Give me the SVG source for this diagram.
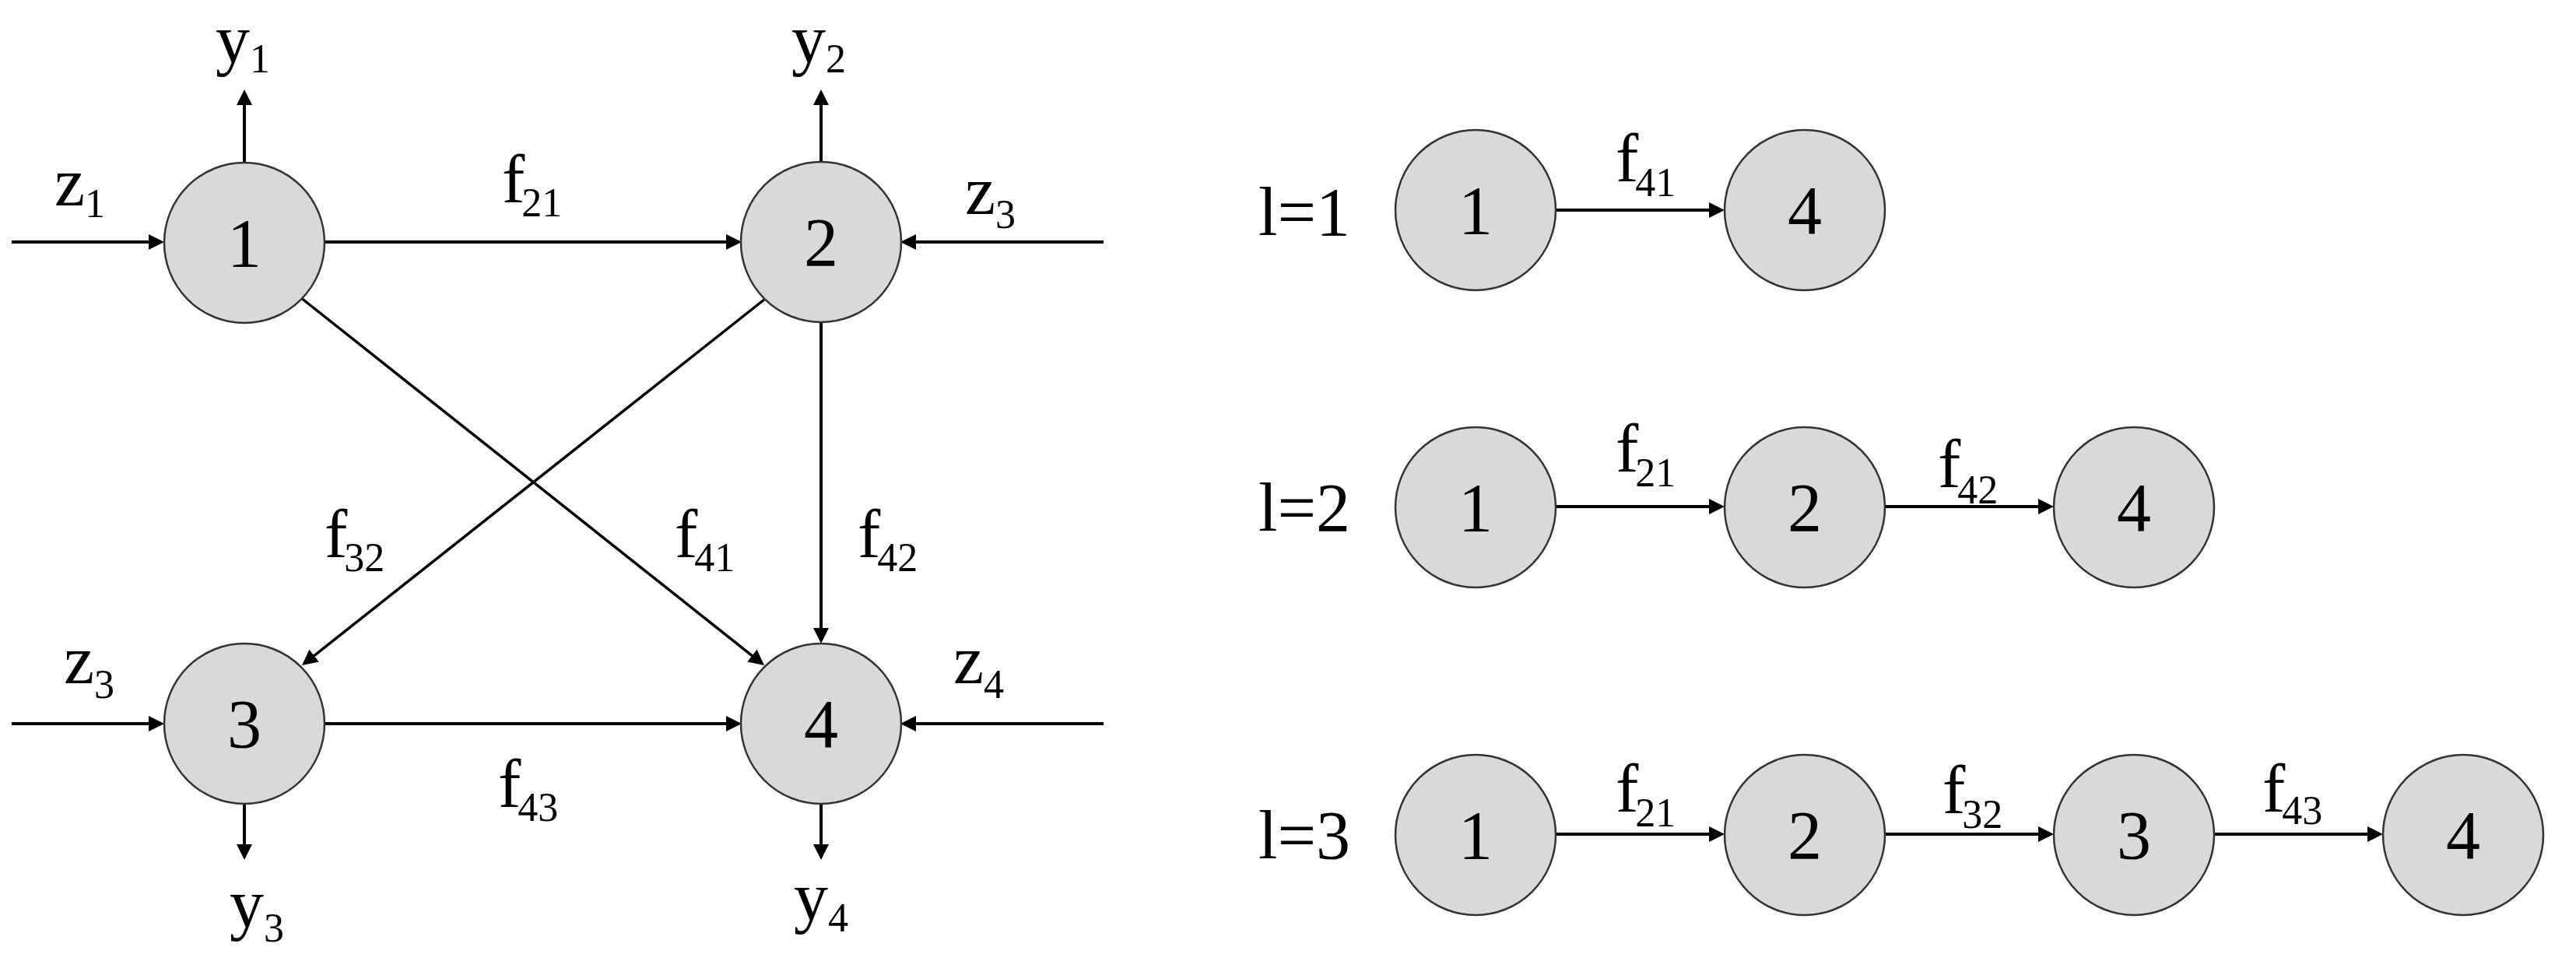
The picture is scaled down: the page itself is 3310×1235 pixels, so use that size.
<svg xmlns="http://www.w3.org/2000/svg" width="3310" height="1235" viewBox="0 0 3310 1235">
<style>
.node circle{fill:#d9d9d9;stroke:#333;stroke-width:2.5}
.nl{font-family:"Liberation Serif","Times New Roman",serif;font-size:88px;fill:#000;text-anchor:middle}
.lbl{font-family:"Liberation Serif","Times New Roman",serif;font-size:88px;fill:#000}
.sub{font-size:52px}
.edges line{stroke:#000;stroke-width:4;marker-end:url(#ah)}
.edges line.d{stroke-width:3.5}
</style>
<defs>
<marker id="ah" viewBox="0 0 20 20" refX="10" refY="10" markerWidth="20" markerHeight="20" markerUnits="userSpaceOnUse" orient="auto">
<path d="M0,0 L20,10 L0,20 z" fill="#000"/>
</marker>
</defs>
<rect width="3310" height="1235" fill="#fff"/>
<g class="edges" id="connectors">
<line x1="15" y1="311" x2="201" y2="311"/>
<line x1="417" y1="311" x2="943" y2="311"/>
<line x1="1418" y1="311" x2="1167" y2="311"/>
<line x1="314" y1="209" x2="314" y2="125"/>
<line x1="1055" y1="208" x2="1055" y2="125"/>
<line x1="1055" y1="414" x2="1055" y2="817"/>
<line class="d" x1="387" y1="383" x2="974.2" y2="848.8"/>
<line class="d" x1="982" y1="385" x2="395.8" y2="848.8"/>
<line x1="15" y1="930" x2="201" y2="930"/>
<line x1="417" y1="930" x2="943" y2="930"/>
<line x1="1418" y1="930" x2="1167" y2="930"/>
<line x1="314" y1="1032" x2="314" y2="1095"/>
<line x1="1055" y1="1032" x2="1055" y2="1095"/>
<line x1="1999" y1="270" x2="2206" y2="270"/>
<line x1="1999" y1="651" x2="2206" y2="651"/>
<line x1="2422" y1="651" x2="2629" y2="651"/>
<line x1="1999" y1="1072" x2="2206" y2="1072"/>
<line x1="2422" y1="1072" x2="2629" y2="1072"/>
<line x1="2845" y1="1072" x2="3052" y2="1072"/>
</g>
<g id="edge-labels" class="lbl">
<text x="277" y="80">y<tspan class="sub" dy="13">1</tspan></text>
<text x="1017" y="80">y<tspan class="sub" dy="13">2</tspan></text>
<text x="70" y="264">z<tspan class="sub" dy="15">1</tspan></text>
<text x="645" y="260">f<tspan class="sub" dx="-4" dy="18">21</tspan></text>
<text x="1240" y="275">z<tspan class="sub" dy="18">3</tspan></text>
<text x="417" y="716">f<tspan class="sub" dx="-4" dy="18">32</tspan></text>
<text x="867" y="716">f<tspan class="sub" dx="-4" dy="18">41</tspan></text>
<text x="1102" y="716">f<tspan class="sub" dx="-4" dy="18">42</tspan></text>
<text x="82" y="878">z<tspan class="sub" dy="19">3</tspan></text>
<text x="1225" y="878">z<tspan class="sub" dy="19">4</tspan></text>
<text x="640" y="1037">f<tspan class="sub" dx="-4" dy="18">43</tspan></text>
<text x="295" y="1191">y<tspan class="sub" dy="19">3</tspan></text>
<text x="1020" y="1182">y<tspan class="sub" dy="15">4</tspan></text>
<text x="1617" y="302">l=1</text>
<text x="1617" y="682">l=2</text>
<text x="1617" y="1103">l=3</text>
<text x="2076" y="233">f<tspan class="sub" dx="-4" dy="19">41</tspan></text>
<text x="2076" y="606">f<tspan class="sub" dx="-4" dy="19">21</tspan></text>
<text x="2490" y="626">f<tspan class="sub" dx="-4" dy="21">42</tspan></text>
<text x="2076" y="1043">f<tspan class="sub" dx="-4" dy="19">21</tspan></text>
<text x="2496" y="1045">f<tspan class="sub" dx="-4" dy="19">32</tspan></text>
<text x="2907" y="1043">f<tspan class="sub" dx="-4" dy="16">43</tspan></text>
</g>
<g id="n1" class="node"><circle cx="314" cy="312" r="103"/><text class="nl" x="314" y="342">1</text></g>
<g id="n2" class="node"><circle cx="1055" cy="311" r="103"/><text class="nl" x="1055" y="341">2</text></g>
<g id="n3" class="node"><circle cx="314" cy="930" r="103"/><text class="nl" x="314" y="960">3</text></g>
<g id="n4" class="node"><circle cx="1055" cy="930" r="103"/><text class="nl" x="1055" y="960">4</text></g>
<g id="r1n1" class="node"><circle cx="1896" cy="270" r="103"/><text class="nl" x="1896" y="300">1</text></g>
<g id="r1n4" class="node"><circle cx="2319" cy="270" r="103"/><text class="nl" x="2319" y="300">4</text></g>
<g id="r2n1" class="node"><circle cx="1896" cy="652" r="103"/><text class="nl" x="1896" y="682">1</text></g>
<g id="r2n2" class="node"><circle cx="2319" cy="652" r="103"/><text class="nl" x="2319" y="682">2</text></g>
<g id="r2n4" class="node"><circle cx="2742" cy="652" r="103"/><text class="nl" x="2742" y="682">4</text></g>
<g id="r3n1" class="node"><circle cx="1896" cy="1073" r="103"/><text class="nl" x="1896" y="1103">1</text></g>
<g id="r3n2" class="node"><circle cx="2319" cy="1073" r="103"/><text class="nl" x="2319" y="1103">2</text></g>
<g id="r3n3" class="node"><circle cx="2742" cy="1073" r="103"/><text class="nl" x="2742" y="1103">3</text></g>
<g id="r3n4" class="node"><circle cx="3165" cy="1073" r="103"/><text class="nl" x="3165" y="1103">4</text></g>
</svg>
